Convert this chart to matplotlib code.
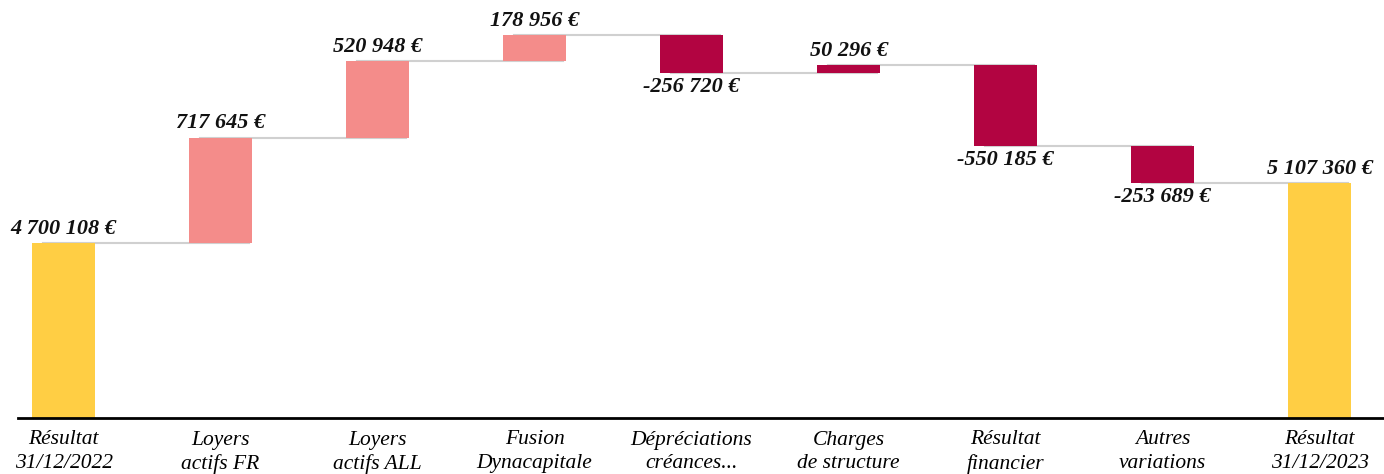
import numpy as np
import matplotlib
matplotlib.use("Agg")
import matplotlib.pyplot as plt

categories = ["Résultat\n31/12/2022", "Loyers\nactifs FR", "Loyers\nactifs ALL",
              "Fusion\nDynacapitale", "Dépréciations\ncréances...", "Charges\nde structure",
              "Résultat\nfinancier", "Autres\nvariations", "Résultat\n31/12/2023"]
values = [4700108, 717645, 520948, 178956, -256720, 50296, -550185, -253689, 5107360]
labels = ["4 700 108 €", "717 645 €", "520 948 €", "178 956 €", "-256 720 €",
          "50 296 €", "-550 185 €", "-253 689 €", "5 107 360 €"]
kinds = ["total", "up", "up", "up", "down", "down", "down", "down", "total"]

colors = {"total": "#FFCE44", "up": "#F48C8A", "down": "#B20441"}

plt.rcParams['font.family'] = ['Liberation Serif', 'DejaVu Serif']

fig = plt.figure(figsize=(13.84, 4.74), dpi=100)
ax = fig.add_axes([18 / 1384, 56 / 474, 1366 / 1384, 418 / 474])

x = np.arange(len(values))
bottoms = []
tops = []
levels = []
run = 0
for k, v in zip(kinds, values):
    if k == "total":
        b, t = 0, v
        run = v
    else:
        b = run
        run = run + v
        t = run
    bottoms.append(b)
    tops.append(t)
    levels.append(run)

heights = np.array(tops) - np.array(bottoms)
ax.bar(x, heights, bottom=bottoms, width=0.4,
       color=[colors[k] for k in kinds], zorder=2)

# connector lines
for i in range(len(values) - 1):
    ax.plot([i - 0.13, i + 1 + 0.18], [levels[i], levels[i]],
            color="#d0d0d0", lw=1.5, zorder=1)

for i, (v, lab) in enumerate(zip(values, labels)):
    hi = max(bottoms[i], tops[i])
    lo = min(bottoms[i], tops[i])
    if v >= 0:
        ax.annotate(lab, (x[i], hi), xytext=(0, 3), textcoords="offset points",
                    ha="center", va="bottom", fontsize=16, fontweight="bold",
                    fontstyle="italic", color="#111111")
    else:
        ax.annotate(lab, (x[i], lo), xytext=(0, -3), textcoords="offset points",
                    ha="center", va="top", fontsize=16, fontweight="bold",
                    fontstyle="italic", color="#111111")

ax.set_xlim(-0.29, 8.41)
ax.set_ylim(3.507e6, 6.356e6)
ax.set_xticks(x)
ax.set_xticklabels(categories, fontsize=15.5, fontstyle="italic", linespacing=1.3)
ax.tick_params(axis="x", length=0, pad=9)
ax.set_yticks([])
for s in ["top", "right", "left"]:
    ax.spines[s].set_visible(False)
ax.spines["bottom"].set_linewidth(2)
ax.spines["bottom"].set_color("black")

fig.savefig("out.png", dpi=100)
